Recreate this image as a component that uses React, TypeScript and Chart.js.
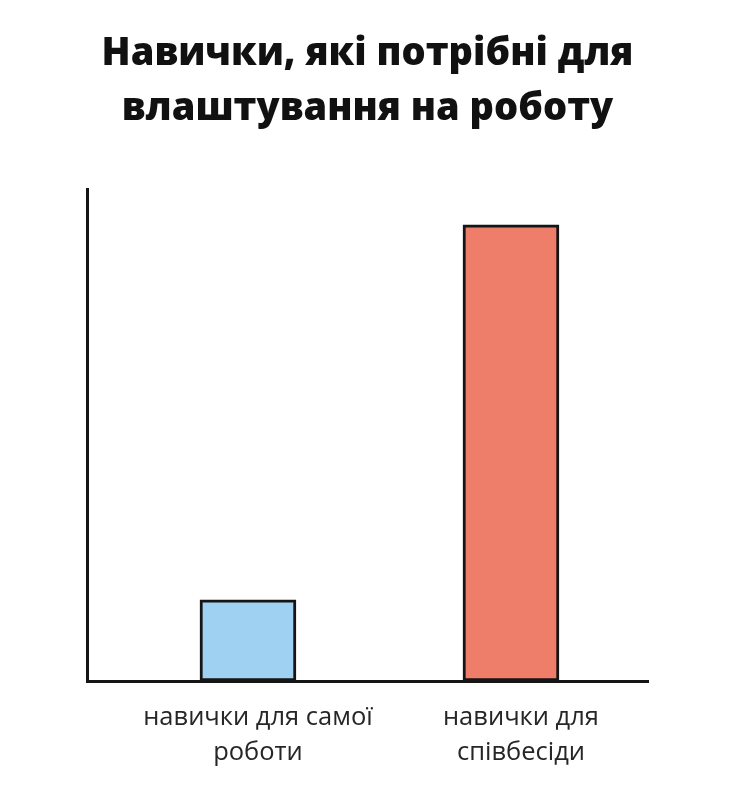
import React, { useEffect, useRef } from "react";
import { Chart, registerables } from "chart.js";

Chart.register(...registerables);

const titleLines = ["Навички, які потрібні для", "влаштування на роботу"];
const categories = [["навички для самої", "роботи"], ["навички для", "співбесіди"]];
const positions = [1, 2];
const values = [16.5, 92.7];
const colors = ["#9fd2f2", "#ee7e69"];

export default function App() {
  const ref = useRef<HTMLCanvasElement | null>(null);
  useEffect(() => {
    let chart: Chart | null = null;
    let cancelled = false;
    const make = () => {
      if (cancelled || !ref.current) return;
      chart = new Chart(ref.current, {
        type: "bar",
        data: {
          datasets: [
            {
              data: positions.map((x, i) => ({ x, y: values[i] })),
              backgroundColor: colors,
              borderColor: "#151515",
              borderWidth: 3,
              borderSkipped: false,
              barThickness: 96,
            } as any,
          ],
        },
        options: {
          animation: false,
          responsive: false,
          devicePixelRatio: 1,
          layout: { padding: { left: 87, right: 82, top: 0, bottom: 0 } },
          plugins: {
            legend: { display: false },
            tooltip: { enabled: false },
            title: {
              display: true,
              text: titleLines,
              color: "#111111",
              font: { family: "'Open Sans'", size: 38, weight: 800, lineHeight: 1.45 },
              padding: { top: 27, bottom: 51.8 },
            },
          },
          scales: {
            x: {
              type: "linear",
              offset: false,
              bounds: "ticks",
              min: 0.388,
              max: 2.521,
              z: 1,
              grid: { display: false, drawTicks: false, offset: false },
              border: { display: true, color: "#151515", width: 3 },
              afterBuildTicks: (scale: any) => {
                scale.ticks = positions.map((v) => ({ value: v }));
              },
              afterFit: (scale: any) => {
                scale.height = 105;
              },
              ticks: {
                autoSkip: false,
                maxRotation: 0,
                minRotation: 0,
                padding: 19,
                labelOffset: 10,
                color: "#262626",
                font: { family: "'Open Sans'", size: 25.5, lineHeight: 1.38 },
                callback: (value: any) => {
                  const idx = positions.indexOf(Number(value));
                  return idx >= 0 ? categories[idx] : "";
                },
              },
            },
            y: {
              min: 0,
              max: 100,
              z: 1,
              grid: { display: false, drawTicks: false },
              border: { display: true, color: "#151515", width: 3 },
              ticks: { display: false },
              afterFit: (scale: any) => {
                scale.width = 0;
              },
            },
          },
        } as any,
      });
    };
    const fonts = (document as any).fonts;
    if (fonts && fonts.load) {
      Promise.all([
        fonts.load("800 38px 'Open Sans'"),
        fonts.load("25px 'Open Sans'"),
      ]).then(make, make);
    } else {
      make();
    }
    return () => {
      cancelled = true;
      if (chart) chart.destroy();
    };
  }, []);
  return (
    <div style={{ position: "fixed", left: 0, top: 0, width: 730, height: 786, background: "#ffffff" }}>
      <canvas ref={ref} width={730} height={786} style={{ width: 730, height: 786, display: "block" }} />
    </div>
  );
}
